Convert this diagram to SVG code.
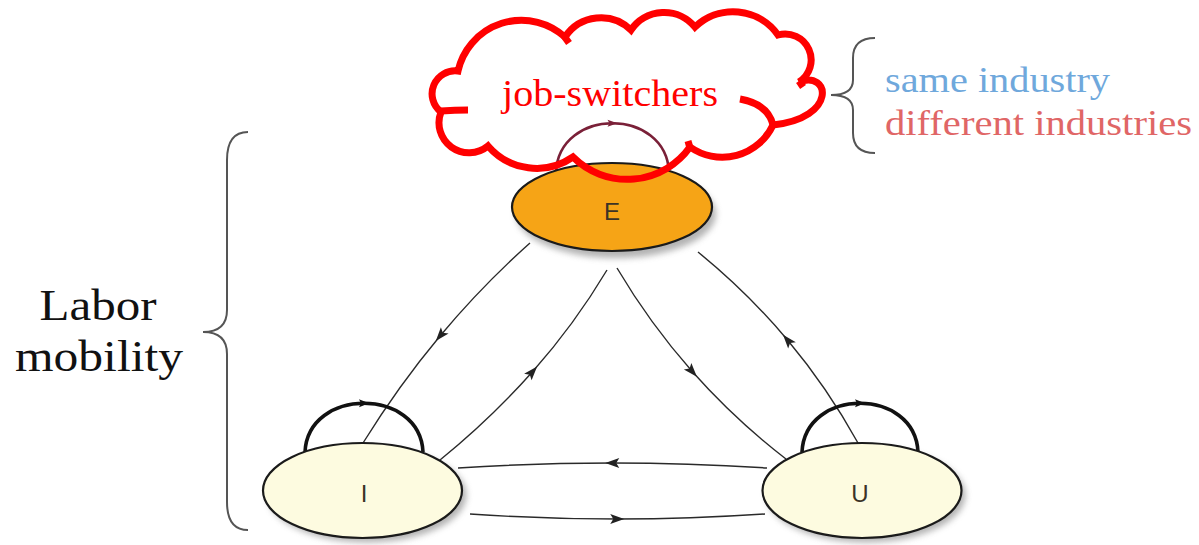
<svg xmlns="http://www.w3.org/2000/svg" width="1199" height="545" viewBox="0 0 1199 545">
<style>
.node{stroke:#1a1a1a;stroke-width:2.2}
.lbl{font-family:"Liberation Sans",Arial,sans-serif;font-size:24px;fill:#3b3326;text-anchor:middle}
.edge{fill:none;stroke:#2a2a2a;stroke-width:1.4;marker-mid:url(#ah)}
.loop{fill:none;stroke:#111;stroke-width:3.6;marker-mid:url(#lh)}
.brace{fill:none;stroke:#555;stroke-width:2}
.serif{font-family:"Liberation Serif","Times New Roman",serif}
.cloud{fill:none;stroke:#ff0000;stroke-width:7}
.shadow{fill:#9a9a9a;opacity:0.75;filter:url(#blur)}
</style>
<defs>
<filter id="blur" x="-20%" y="-20%" width="140%" height="140%"><feGaussianBlur stdDeviation="3"/></filter>
<marker id="ah" viewBox="-8 -6 16 12" markerWidth="16" markerHeight="12" refX="0" refY="0" orient="auto" markerUnits="userSpaceOnUse"><path d="M7,0 L-7,-5 L-4,0 L-7,5 Z" fill="#222"/></marker>
<marker id="lh" viewBox="-6 -5 12 10" markerWidth="12" markerHeight="10" refX="0" refY="0" orient="auto" markerUnits="userSpaceOnUse"><path d="M5,0 L-5,-4 L-3,0 L-5,4 Z" fill="#111"/></marker>
<marker id="lhr" viewBox="-6 -5 12 10" markerWidth="12" markerHeight="10" refX="0" refY="0" orient="auto" markerUnits="userSpaceOnUse"><path d="M5,0 L-5,-3.5 L-3,0 L-5,3.5 Z" fill="#7a2038"/></marker>
</defs>
<rect width="1199" height="545" fill="#ffffff"/>

<g id="connectors">
<path class="edge" d="M530,243 Q482,285.75 440.25,335.75 Q398.5,385.75 363,443"/>
<path class="edge" d="M440,460 Q490.75,418.75 532.5,371.75 Q574.25,324.75 607,270"/>
<path class="edge" d="M617,268 Q650,323.75 692.25,371.5 Q734.5,419.25 786,459"/>
<path class="edge" d="M858,443 Q827.5,387.75 787.5,340 Q747.5,292.25 698,252"/>
<path class="edge" d="M767,468 Q689.5,463 612.25,463 Q535,463 458,468"/>
<path class="edge" d="M470,514 Q543.5,519 617.25,519 Q691,519 765,514"/>
<path class="loop" d="M305,452 C306.5,419.5 335.25,403.25 364,403.25 C392.75,403.25 421.5,419.5 423,452"/>
<path class="loop" d="M802,452 C803.5,419.5 831.75,403.25 860,403.25 C888.25,403.25 916.5,419.5 918,452"/>
<path d="M556,172 C557.5,139.5 585,123.25 612.5,123.25 C640,123.25 667.5,139.5 669,172" fill="none" stroke="#7a2038" stroke-width="2.6" marker-mid="url(#lhr)"/>
</g>

<g id="node-E">
<ellipse class="shadow" cx="616" cy="214" rx="100" ry="44"/>
<ellipse class="node" cx="612" cy="207" rx="100" ry="44" fill="#f6a416"/>
<text class="lbl" x="612" y="220">E</text>
</g>
<g id="node-I">
<ellipse class="shadow" cx="367" cy="495" rx="99.5" ry="47.5"/>
<ellipse class="node" cx="362.5" cy="490.5" rx="99.5" ry="47.5" fill="#fdfbe0"/>
<text class="lbl" x="364" y="502">I</text>
</g>
<g id="node-U">
<ellipse class="shadow" cx="866" cy="495" rx="99.5" ry="47.5"/>
<ellipse class="node" cx="862" cy="490.5" rx="99.5" ry="47.5" fill="#fdfbe0"/>
<text class="lbl" x="860" y="502">U</text>
</g>

<g id="cloud">
<path class="cloud" d="M458,71 A65,65 0 0 1 565,37 A43,43 0 0 1 631,30 A40,40 0 0 1 695,27 A55,55 0 0 1 778,35 A26,26 0 0 1 799,82 C830,70 838,118 773,125 A56,56 0 0 1 690,147 A77,77 0 0 1 573,157 A64,64 0 0 1 488,146 A30,30 0 0 1 441,112 A23,23 0 0 1 458,71 Z"/>
<path class="cloud" d="M441,111 Q455,110 468,110"/>
<path class="cloud" d="M740,99 Q768,104 773,125"/>
<path class="cloud" d="M564,36 L569,43"/>
<path class="cloud" d="M799,81 L803,87"/>
<path class="cloud" d="M690,148 L688,141"/>
<text class="serif" x="610" y="106" font-size="37" fill="#ff0000" text-anchor="middle" textLength="216" lengthAdjust="spacingAndGlyphs">job-switchers</text>
</g>

<g id="brace-right">
<path class="brace" d="M875,38 Q853,38 853,58 L853,80 Q853,95 831,95 Q853,95 853,110 L853,133 Q853,153 875,153"/>
<text class="serif" x="885" y="92" font-size="36" fill="#6fa8dc" textLength="225" lengthAdjust="spacingAndGlyphs">same industry</text>
<text class="serif" x="885" y="135" font-size="36" fill="#e06666" textLength="307" lengthAdjust="spacingAndGlyphs">different industries</text>
</g>

<g id="brace-left">
<path class="brace" stroke="#666" d="M248,132 Q227,132 227,160 L227,310 Q227,332 203,332 Q227,332 227,354 L227,502 Q227,530 248,530"/>
<text class="serif" x="98" y="320" font-size="45" fill="#111" text-anchor="middle" textLength="117" lengthAdjust="spacingAndGlyphs">Labor</text>
<text class="serif" x="99" y="371" font-size="45" fill="#111" text-anchor="middle" textLength="168" lengthAdjust="spacingAndGlyphs">mobility</text>
</g>
</svg>
